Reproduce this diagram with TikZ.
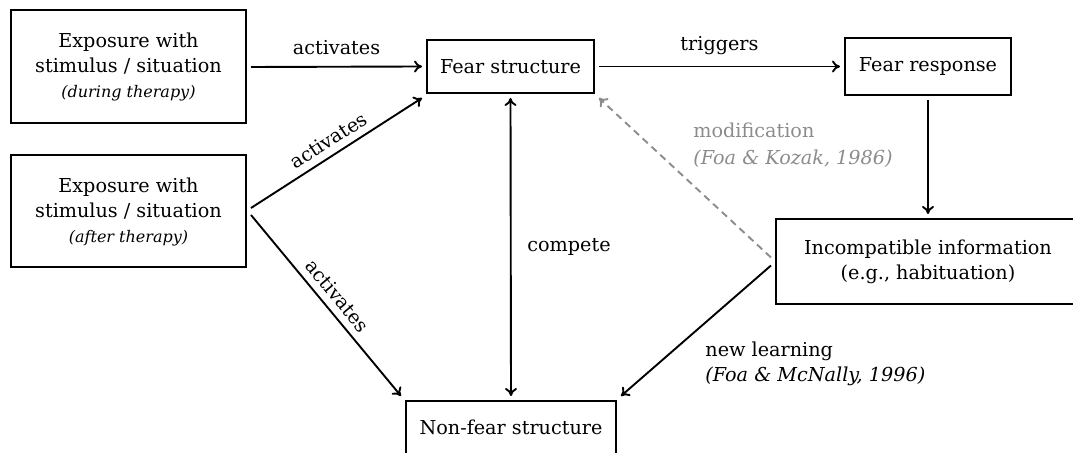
\documentclass[tikz,border=0pt]{standalone}
\usepackage{fontspec}
\setmainfont{DejaVu Serif}
\usetikzlibrary{arrows.meta}
\definecolor{modgray}{RGB}{140,140,140}
\newcommand\txtsize{\fontsize{9.6}{12.5}\selectfont}
\newcommand\subnote[1]{{\fontsize{8}{11}\selectfont\itshape #1}}
\begin{document}
\begin{tikzpicture}[x=0.5pt,y=-0.5pt,
  box/.style={draw, line width=1pt, align=center, inner sep=0pt,
              outer sep=2.5pt, font=\txtsize},
  lbl/.style={font=\txtsize},
  arr/.style={-{To[length=4pt,width=6pt]}, line width=0.95pt},
  arrboth/.style={{To[length=4pt,width=6pt]}-{To[length=4pt,width=6pt]}, line width=0.95pt},
]
\useasboundingbox (0,0) rectangle (1073,453);

% boxes
\node[box, minimum width=117.5pt, minimum height=56.5pt] (dur) at (128.5,67)
  {Exposure with\\stimulus / situation\\\subnote{(during therapy)}};
\node[box, minimum width=117.5pt, minimum height=56pt] (aft) at (128.5,211.5)
  {Exposure with\\stimulus / situation\\\subnote{(after therapy)}};
\node[box, minimum width=83.5pt, minimum height=26.5pt] (fs) at (510.5,66.5)
  {Fear structure};
\node[box, minimum width=83pt, minimum height=28.5pt] (fr) at (928,66.5)
  {Fear response};
\node[box, minimum width=152pt, minimum height=42.5pt] (inc) at (928,261.5)
  {Incompatible information\\(e.g., habituation)};
\node[box, minimum width=105pt, minimum height=26.5pt] (nf) at (511,427.5)
  {Non-fear structure};

% connectors
\draw[arr] (dur.east) -- node[lbl, above=2pt] {activates} (fs.west);
\draw[arr] ([yshift=1.75pt]aft.east) -- node[lbl, sloped, above] {activates} (fs.south west);
\draw[arr] ([yshift=-1.75pt]aft.east) -- node[lbl, sloped, above] {activates} (nf.north west);
\draw[arr] (fs.east) -- node[lbl, above=2pt] {triggers} (fr.west);
\draw[arr] (fr.south) -- (inc.north);
\draw[arrboth] (fs.south) -- node[lbl, right=4.5pt] {compete} (nf.north);
\draw[arr, modgray, dash pattern=on 3.5pt off 2.5pt] ([yshift=2pt]inc.west) -- (fs.south east);
\draw[arr] ([yshift=-2pt]inc.west) -- (nf.north east);

% edge notes
\node[lbl, text=modgray, align=left, anchor=north west, inner sep=0pt] (modnote) at (693,123)
  {modification\\[1pt]\textit{(Foa \& Kozak, 1986)}};
\node[lbl, align=left, anchor=north west, inner sep=0pt] (learnnote) at (705,342)
  {new learning\\\textit{(Foa \& McNally, 1996)}};
\end{tikzpicture}
\end{document}
